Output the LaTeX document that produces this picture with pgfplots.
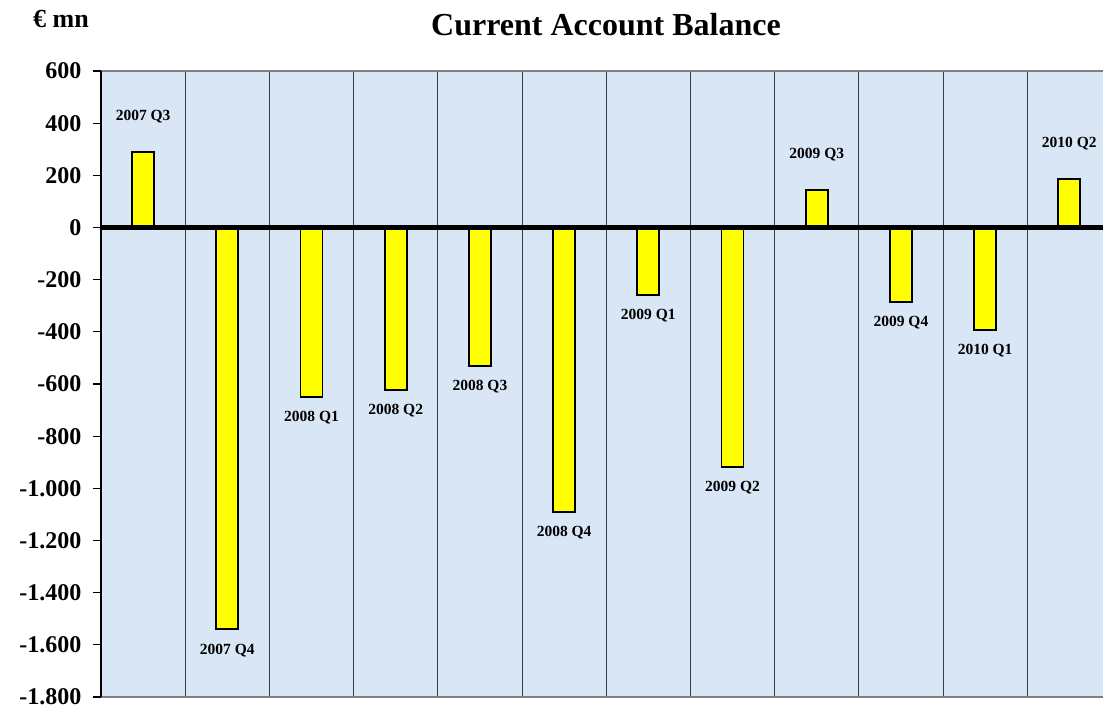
\documentclass[border=0pt]{standalone}
\usepackage{pgfplots}
\pgfplotsset{compat=1.18}
\usepackage{fontspec}
\setmainfont{Liberation Serif}
\definecolor{bg}{RGB}{217,230,246}
\definecolor{baryellow}{RGB}{255,255,0}
\definecolor{gridc}{RGB}{60,60,60}
\pgfplotstableread[col sep=comma]{
x,y,lab
0,290,2007 Q3
8,145,2009 Q3
11,187,2010 Q2
}\pos
\pgfplotstableread[col sep=comma]{
x,y,lab
1,-1540,2007 Q4
2,-650,2008 Q1
3,-622,2008 Q2
4,-530,2008 Q3
5,-1090,2008 Q4
6,-258,2009 Q1
7,-918,2009 Q2
9,-285,2009 Q4
10,-393,2010 Q1
}\negv
\begin{document}
\begin{tikzpicture}[x=1pt,y=1pt]
\useasboundingbox (0,0) rectangle (1103,708);
\node[anchor=base, font=\fontsize{26}{26}\selectfont\bfseries] at (61,680) {€ mn};
\node[anchor=base, font=\fontsize{32}{32}\selectfont\bfseries] at (606,672) {Current Account Balance};
\begin{axis}[
  at={(101pt,11pt)}, anchor=south west,
  scale only axis, width=1002pt, height=626pt,
  xmin=-0.5, xmax=11.4, ymin=-1800, ymax=600,
  separate axis lines, axis x line=box, axis y line=left,
  x axis line style={draw=gray, line width=1.5pt, -},
  y axis line style={draw=black, line width=1.5pt, -},
  axis background/.style={fill=bg},
  xtick={0.5,1.5,...,10.5}, xticklabels={},
  xtick style={draw=none},
  xmajorgrids, major grid style={draw=gridc, line width=0.9pt},
  ytick={-1800,-1600,...,600},
  yticklabels={-1.800,-1.600,-1.400,-1.200,-1.000,-800,-600,-400,-200,0,200,400,600},
  tick align=outside, major tick length=8pt,
  ytick style={draw=black, line width=1.2pt},
  yticklabel style={font=\fontsize{24}{24}\selectfont\bfseries, xshift=-8pt, inner ysep=0pt},
]
\addplot[ybar, bar width=22pt, bar shift=0pt, fill=baryellow, draw=black, line width=1.8pt,
  nodes near coords, point meta=explicit symbolic,
  every node near coord/.append style={anchor=center, yshift=35pt, font=\fontsize{15.5}{15.5}\selectfont\bfseries, text=black}]
  table[x=x, y=y, meta=lab] {\pos};
\addplot[ybar, bar width=22pt, bar shift=0pt, fill=baryellow, draw=black, line width=1.8pt,
  nodes near coords, point meta=explicit symbolic,
  every node near coord/.append style={anchor=center, yshift=-21pt, font=\fontsize{15.5}{15.5}\selectfont\bfseries, text=black}]
  table[x=x, y=y, meta=lab] {\negv};
\addplot[black, line width=5pt, forget plot] coordinates {(-0.5,0) (11.4,0)};
\end{axis}
\end{tikzpicture}
\end{document}
